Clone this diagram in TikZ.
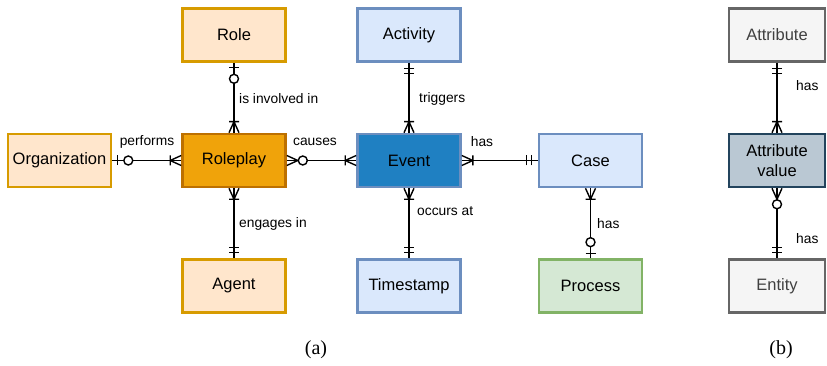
\documentclass[tikz,border=0pt]{standalone}
\usepackage{fontspec}
\setmainfont{Liberation Sans}
\newfontfamily\capfont{Liberation Serif}
\definecolor{orFill}{HTML}{FFE6CC}
\definecolor{orLine}{HTML}{D79B00}
\definecolor{blFill}{HTML}{DAE8FC}
\definecolor{blLine}{HTML}{6C8EBF}
\definecolor{rpFill}{HTML}{F0A30A}
\definecolor{rpLine}{HTML}{BD7000}
\definecolor{evFill}{HTML}{1F80C2}
\definecolor{grFill}{HTML}{D5E8D4}
\definecolor{grLine}{HTML}{82B366}
\definecolor{gyFill}{HTML}{F5F5F5}
\definecolor{gyLine}{HTML}{666666}
\definecolor{avFill}{HTML}{BAC8D3}
\definecolor{avLine}{HTML}{23445D}
\tikzset{
  box/.style={draw, line width=2.6pt, minimum width=103pt, minimum height=53pt, inner sep=0pt,
    font=\fontsize{16.5}{20}\selectfont, align=center},
  nbox/.style={box, minimum width=96pt},
  orbox/.style={box, fill=orFill, draw=orLine},
  blbox/.style={box, fill=blFill, draw=blLine},
  conn/.style={line width=1.4pt},
  mk/.style={line width=1.4pt},
  lbl/.style={font=\fontsize{13.8}{16}\selectfont, inner sep=0pt},
  pics/one/.style={code={\draw[mk] (6,-5)--(6,5) (11,-5)--(11,5);}},
  pics/zeroone/.style={code={\draw[mk] (5,-5)--(5,5); \draw[mk,fill=white] (16,0) circle (4.5pt);}},
  pics/onemany/.style={code={\draw[mk] (0,-5)--(11,0)--(0,5) (11,-5)--(11,5);}},
  pics/zeromany/.style={code={\draw[mk] (0,-5)--(11,0)--(0,5); \draw[mk,fill=white] (16,0) circle (4.5pt);}},
}
\begin{document}
\begin{tikzpicture}[x=1pt,y=-1pt]
\useasboundingbox (0,0) rectangle (827,366);
% nodes
\node[orbox] (role) at (234,35) {Role};
\node[blbox] (activity) at (409,35) {Activity};
\node[nbox, fill=gyFill, draw=gyLine, text=black!75] (attr) at (777,35) {Attribute};
\node[orbox] (org) at (59.5,160.5) {Organization};
\node[box, fill=rpFill, draw=rpLine] (roleplay) at (234,160.5) {Roleplay};
\node[box, fill=evFill, draw=blLine] (event) at (409,160.5) {Event};
\node[blbox] (case) at (590.5,160.5) {Case};
\node[nbox, fill=avFill, draw=avLine, font=\fontsize{16.5}{20.5}\selectfont] (av) at (777,160.5) {Attribute\\value};
\node[orbox] (agent) at (234,286) {Agent};
\node[blbox] (timestamp) at (409,286) {Timestamp};
\node[box, fill=grFill, draw=grLine] (process) at (590.5,286) {Process};
\node[nbox, fill=gyFill, draw=gyLine, text=black!75] (entity) at (777,286) {Entity};
% connectors
\draw[conn] (role.south) -- (roleplay.north);
\draw[conn] (org.east) -- (roleplay.west);
\draw[conn] (roleplay.east) -- (event.west);
\draw[conn] (activity.south) -- (event.north);
\draw[conn] (event.east) -- (case.west);
\draw[conn] (roleplay.south) -- (agent.north);
\draw[conn] (event.south) -- (timestamp.north);
\draw[conn] (case.south) -- (process.north);
\draw[conn] (attr.south) -- (av.north);
\draw[conn] (av.south) -- (entity.north);
% end marks
\pic[rotate=-90] at (role.south) {zeroone};
\pic[rotate=90] at (roleplay.north) {onemany};
\pic at (org.east) {zeroone};
\pic[rotate=180] at (roleplay.west) {onemany};
\pic at (roleplay.east) {zeromany};
\pic[rotate=180] at (event.west) {onemany};
\pic[rotate=-90] at (activity.south) {one};
\pic[rotate=90] at (event.north) {onemany};
\pic at (event.east) {onemany};
\pic[rotate=180] at (case.west) {one};
\pic[rotate=-90] at (roleplay.south) {onemany};
\pic[rotate=90] at (agent.north) {one};
\pic[rotate=-90] at (event.south) {onemany};
\pic[rotate=90] at (timestamp.north) {one};
\pic[rotate=-90] at (case.south) {onemany};
\pic[rotate=90] at (process.north) {zeroone};
\pic[rotate=-90] at (attr.south) {one};
\pic[rotate=90] at (av.north) {onemany};
\pic[rotate=-90] at (av.south) {zeromany};
\pic[rotate=90] at (entity.north) {one};
% labels
\node[lbl, anchor=west] (l1) at (239,99) {is involved in};
\node[lbl] (l2) at (147,142) {performs};
\node[lbl] (l3) at (315,142) {causes};
\node[lbl, anchor=west] (l4) at (419,99) {triggers};
\node[lbl] (l5) at (482,142) {has};
\node[lbl, anchor=west] (l6) at (239,224) {engages in};
\node[lbl, anchor=west] (l7) at (417,211) {occurs at};
\node[lbl, anchor=west] (l8) at (597,224) {has};
\node[lbl, anchor=west] (l9) at (796,86) {has};
\node[lbl, anchor=west] (l10) at (796,239) {has};
\node[font=\capfont\fontsize{20}{24}\selectfont] (capa) at (316,350) {(a)};
\node[font=\capfont\fontsize{20}{24}\selectfont] (capb) at (781,350) {(b)};
\end{tikzpicture}
\end{document}
